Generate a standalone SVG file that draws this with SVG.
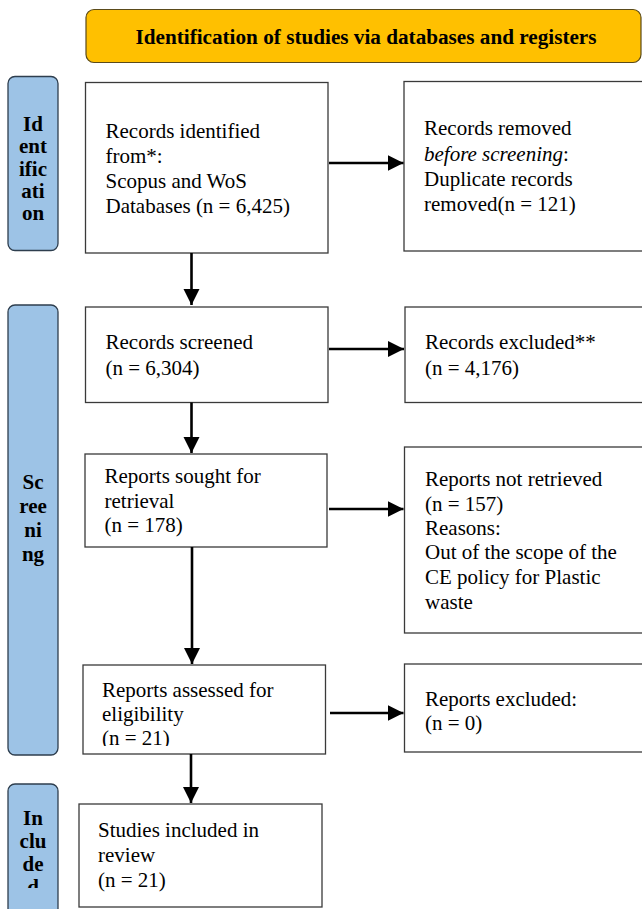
<svg xmlns="http://www.w3.org/2000/svg" width="642" height="909" viewBox="0 0 642 909">
<style>
.box{fill:#fff;stroke:#3a3a3a;stroke-width:1.3}
.side{fill:#9dc3e6;stroke:#2e3e4e;stroke-width:1.3}
.t{font-family:"Liberation Serif","Times New Roman",serif;font-size:21px;fill:#000}
.s{font-family:"Liberation Serif","Times New Roman",serif;font-size:21px;font-weight:bold;fill:#000;text-anchor:middle}
.h{font-family:"Liberation Serif","Times New Roman",serif;font-size:21.2px;font-weight:bold;fill:#000;text-anchor:middle}
.c{stroke:#000;stroke-width:2.6;fill:none;marker-end:url(#ah)}
</style>
<defs>
<marker id="ah" markerUnits="userSpaceOnUse" markerWidth="17" markerHeight="17" refX="16" refY="8" orient="auto">
<path d="M0,0 L16,8 L0,16 z" fill="#000"/>
</marker>
<clipPath id="clipA"><rect x="83" y="665" width="243" height="81"/></clipPath>
<clipPath id="clipI"><rect x="8" y="784" width="50" height="104"/></clipPath>
</defs>

<g id="header">
<rect x="86" y="9.5" width="555" height="53" rx="8" fill="#ffc000" stroke="#5a4a1a" stroke-width="1.2"/>
<text class="h" x="366" y="44">Identification of studies via databases and registers</text>
</g>

<g id="side-identification">
<rect class="side" x="8" y="76.5" width="50" height="174" rx="7"/>
<text class="s" x="33" y="131">Id</text>
<text class="s" x="33" y="153">ent</text>
<text class="s" x="33" y="175.5">ific</text>
<text class="s" x="33" y="197.5">ati</text>
<text class="s" x="33" y="220">on</text>
</g>

<g id="side-screening">
<rect class="side" x="8" y="305" width="50" height="450" rx="7"/>
<text class="s" x="33" y="489">Sc</text>
<text class="s" x="33" y="513">ree</text>
<text class="s" x="33" y="537">ni</text>
<text class="s" x="33" y="561">ng</text>
</g>

<g id="side-included">
<rect class="side" x="8" y="784" width="50" height="140" rx="7"/>
<g clip-path="url(#clipI)">
<text class="s" x="33" y="825">In</text>
<text class="s" x="33" y="848">clu</text>
<text class="s" x="33" y="871">de</text>
<text class="s" x="33" y="894">d</text>
</g>
</g>

<g id="records-identified">
<rect class="box" x="85.5" y="82.5" width="242.5" height="170.5"/>
<text class="t" x="105.5" y="137.5">Records identified</text>
<text class="t" x="105.5" y="162.5">from*:</text>
<text class="t" x="105.5" y="187.5">Scopus and WoS</text>
<text class="t" x="105.5" y="212.5">Databases (n = 6,425)</text>
</g>

<g id="records-removed">
<rect class="box" x="404" y="81.5" width="250" height="169.5"/>
<text class="t" x="424" y="135">Records removed</text>
<text class="t" x="424" y="161"><tspan font-style="italic">before screening</tspan>:</text>
<text class="t" x="424" y="186">Duplicate records</text>
<text class="t" x="424" y="211">removed(n = 121)</text>
</g>

<g id="records-screened">
<rect class="box" x="85.5" y="307" width="242.5" height="95.5"/>
<text class="t" x="105.5" y="349">Records screened</text>
<text class="t" x="105.5" y="375">(n = 6,304)</text>
</g>

<g id="records-excluded">
<rect class="box" x="405" y="307" width="250" height="95.5"/>
<text class="t" x="425" y="349">Records excluded**</text>
<text class="t" x="425" y="375">(n = 4,176)</text>
</g>

<g id="reports-sought">
<rect class="box" x="85" y="454" width="242" height="93"/>
<text class="t" x="104.5" y="483">Reports sought for</text>
<text class="t" x="104.5" y="508">retrieval</text>
<text class="t" x="104.5" y="532">(n = 178)</text>
</g>

<g id="reports-not-retrieved">
<rect class="box" x="404.5" y="447" width="250" height="186"/>
<text class="t" x="425" y="486">Reports not retrieved</text>
<text class="t" x="425" y="511">(n = 157)</text>
<text class="t" x="425" y="535">Reasons:</text>
<text class="t" x="425" y="559">Out of the scope of the</text>
<text class="t" x="425" y="584">CE policy for Plastic</text>
<text class="t" x="425" y="609">waste</text>
</g>

<g id="reports-assessed">
<rect class="box" x="83" y="665" width="242.5" height="89"/>
<g clip-path="url(#clipA)">
<text class="t" x="102" y="697">Reports assessed for</text>
<text class="t" x="102" y="721">eligibility</text>
<text class="t" x="102" y="745">(n = 21)</text>
</g>
</g>

<g id="reports-excluded">
<rect class="box" x="404.5" y="664" width="250" height="88"/>
<text class="t" x="425" y="706">Reports excluded:</text>
<text class="t" x="425" y="730">(n = 0)</text>
</g>

<g id="studies-included">
<rect class="box" x="79" y="804" width="243" height="103"/>
<text class="t" x="98" y="837">Studies included in</text>
<text class="t" x="98" y="862">review</text>
<text class="t" x="98" y="887">(n = 21)</text>
</g>

<g id="connectors">
<line class="c" x1="191.5" y1="253" x2="191.5" y2="305"/>
<line class="c" x1="191.5" y1="402.5" x2="191.5" y2="453"/>
<line class="c" x1="192" y1="547" x2="192" y2="664"/>
<line class="c" x1="191" y1="754" x2="191" y2="803"/>
<line class="c" x1="329" y1="163" x2="403.5" y2="163"/>
<line class="c" x1="329" y1="349" x2="404" y2="349"/>
<line class="c" x1="329" y1="509" x2="403.5" y2="509"/>
<line class="c" x1="330" y1="713" x2="403.5" y2="713"/>
</g>
</svg>
